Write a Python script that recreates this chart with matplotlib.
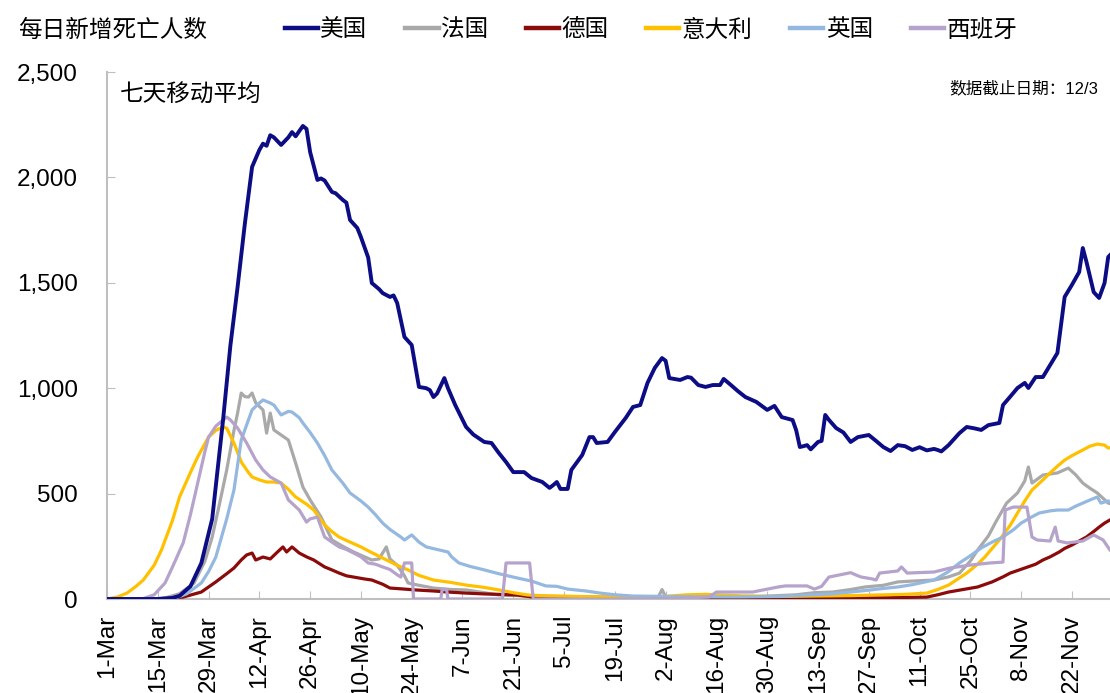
import matplotlib
matplotlib.use("Agg")
import matplotlib.pyplot as plt

plt.rcParams['font.family'] = ['Liberation Sans', 'Noto Sans CJK SC']

# days counted from 1-Mar, values = 7-day average of daily new deaths
us_day = [0, 14, 18, 20, 23, 26, 29, 32, 34, 36, 38, 40, 41, 42, 43, 44, 45, 46, 48, 50,
          51, 52, 54, 55, 56, 58, 59, 60, 62, 63, 65, 66, 67, 69, 70, 72, 73, 75, 76, 78,
          79, 80, 82, 84, 86, 88, 89, 90, 91, 93, 94, 96, 99, 101, 104, 106, 108, 110, 112, 115,
          117, 120, 122, 123, 124, 125, 127, 128, 131, 133, 134, 135, 138, 140, 143, 145, 147, 149, 151, 153,
          154, 155, 158, 160, 161, 163, 165, 167, 169, 170, 172, 174, 176, 179, 182, 184, 186, 189, 190, 191,
          192, 193, 194, 196, 197, 198, 199, 201, 203, 205, 207, 210, 212, 214, 216, 218, 220, 222, 224, 226,
          228, 229, 230, 232, 235, 237, 239, 241, 243, 246, 247, 249, 251, 253, 254, 256, 258, 260, 262, 264,
          266, 268, 269, 270, 271, 272, 273.5, 275, 276, 277]
us_val = [0, 0, 5, 15, 60, 170, 380, 850, 1200, 1480, 1780, 2050, 2090, 2130, 2160, 2150, 2200, 2190, 2154, 2190,
          2215, 2195, 2244, 2230, 2120, 1988, 1995, 1985, 1931, 1925, 1893, 1880, 1798, 1760, 1717, 1620, 1499, 1470, 1451, 1433,
          1440, 1404, 1243, 1205, 1006, 1000, 991, 958, 975, 1048, 1000, 920, 816, 780, 745, 740, 693, 650, 602, 602,
          574, 555, 527, 540, 555, 522, 522, 612, 683, 768, 768, 740, 745, 792, 859, 911, 920, 1025, 1096, 1143,
          1130, 1048, 1039, 1053, 1050, 1015, 1006, 1015, 1015, 1044, 1015, 985, 958, 935, 897, 916, 863, 849, 800, 721,
          725, 730, 710, 745, 750, 873, 850, 811, 790, 745, 768, 778, 750, 721, 702, 730, 725, 707, 720, 705,
          712, 707, 700, 730, 787, 816, 810, 802, 825, 835, 920, 960, 1001, 1025, 1001, 1053, 1053, 1110, 1167, 1433,
          1490, 1551, 1665, 1600, 1527, 1456, 1428, 1499, 1622, 1640]

fr_day = [0, 14, 16, 20, 24, 27, 29, 31, 33, 35, 36, 37, 38, 39, 40, 41, 43, 44, 45, 46,
          48, 50, 52, 54, 56, 59, 62, 65, 68, 71, 73, 75, 77, 78, 80, 82, 83, 86, 90, 95,
          99, 104, 108, 115, 125, 140, 152, 153, 154, 160, 180, 190, 195, 200, 205, 209, 214, 218, 222, 228,
          232, 235, 238, 240, 243, 245, 248, 251, 253, 254, 255, 258, 262, 265, 267, 269, 271, 273, 276, 277]
fr_val = [0, 2, 5, 25, 76, 180, 294, 450, 612, 800, 882, 977, 960, 958, 977, 930, 897, 787, 882, 802,
          778, 754, 645, 531, 470, 389, 280, 250, 223, 200, 185, 190, 247, 190, 160, 110, 76, 65, 52, 45,
          43, 30, 19, 15, 12, 10, 10, 45, 10, 10, 12, 20, 30, 33, 45, 57, 65, 81, 85, 90,
          105, 123, 180, 232, 300, 365, 455, 503, 560, 626, 550, 588, 598, 621, 590, 550, 525, 503, 455, 450]

de_day = [0, 12, 17, 21, 26, 30, 33, 35, 37, 38.5, 40, 41, 43, 45, 47, 48.5, 49.5, 51, 53, 55,
          57, 60, 62, 64, 66, 68, 71, 73, 76, 78, 82, 85, 90, 94, 99, 104, 110, 113, 117, 121,
          140, 170, 200, 215, 222, 226, 229, 232, 236, 240, 244, 247, 249, 251, 253, 256, 258, 260, 262.5, 264,
          266, 268, 270, 272, 273.5, 275, 276.5, 277]
de_val = [0, 0, 3, 9, 33, 81, 120, 147, 185, 209, 218, 185, 199, 190, 223, 247, 223, 247, 218, 200,
          185, 152, 138, 123, 110, 104, 95, 90, 70, 52, 47, 43, 38, 33, 28, 24, 21, 19, 10, 5,
          4, 3, 5, 6, 8, 9, 20, 33, 45, 57, 81, 105, 123, 135, 147, 165, 185, 200, 223, 240,
          256, 275, 294, 320, 341, 360, 375, 380]

it_day = [0, 3, 5.5, 8, 10, 13, 15, 18, 20, 23, 25, 28, 30, 32, 33, 35, 37, 39, 40, 42,
          44, 46, 48, 50, 52, 55, 57, 60, 62, 64, 67, 70, 73, 76, 80, 83, 86, 90, 95, 99,
          104, 108, 112, 116, 121, 130, 140, 150, 160, 165, 175, 185, 195, 205, 215, 220, 226, 229, 232, 235,
          237, 240, 242, 244, 246, 249, 251, 253, 255, 258, 260, 262, 264, 266, 269, 271, 273, 275, 276, 277]
it_val = [0, 10, 28, 60, 90, 160, 232, 370, 484, 600, 674, 768, 800, 816, 810, 740, 650, 600, 579, 565,
          555, 555, 550, 520, 484, 450, 422, 351, 320, 294, 270, 247, 220, 194, 160, 138, 112, 90, 78, 66,
          55, 43, 30, 19, 15, 12, 10, 8, 20, 22, 15, 12, 14, 16, 20, 22, 28, 45, 66, 100,
          123, 165, 199, 240, 280, 350, 408, 465, 517, 565, 598, 630, 659, 680, 707, 725, 735, 730, 716, 720]

uk_day = [0, 14, 19, 22, 26, 28, 30, 33, 35, 37, 39, 40, 42, 43, 45, 46, 48, 50, 51, 53,
          54, 56, 58, 60, 62, 65, 67, 70, 72, 74, 76, 78, 81, 82, 84, 86, 88, 91, 94, 95,
          97, 100, 104, 108, 113, 117, 121, 124, 127, 132, 136, 140, 145, 155, 165, 175, 185, 195, 200, 205,
          210, 214, 218, 222, 228, 232, 235, 238, 241, 244, 247, 250, 252, 255, 257, 260, 262, 265, 267, 269,
          271, 273, 274, 276, 277]
uk_val = [0, 0, 5, 25, 76, 130, 199, 380, 517, 754, 850, 897, 930, 944, 930, 920, 873, 890, 887, 860,
          835, 790, 740, 680, 612, 550, 503, 465, 436, 400, 360, 330, 294, 280, 304, 270, 247, 235, 223, 200,
          171, 155, 138, 120, 100, 85, 62, 60, 47, 38, 28, 20, 14, 12, 10, 10, 12, 20, 25, 33,
          42, 50, 57, 68, 90, 130, 171, 205, 242, 270, 294, 330, 360, 390, 408, 418, 422, 422, 440, 455,
          470, 484, 455, 465, 460]

es_day = [0, 8, 10, 13, 16, 18, 21, 23, 25, 27, 28, 30, 31, 33, 34, 36, 38.5, 41, 43, 45,
          48, 50, 53, 55, 56, 58, 60, 62, 64, 66, 68, 70, 72, 74, 76, 78, 80, 81, 82, 84,
          84.5, 92, 92.4, 93.6, 94, 109, 110, 116.5, 117.5, 150, 160, 166, 168, 178, 180, 185, 187, 193, 195, 197,
          199, 205, 207, 208, 211, 212, 213, 218, 219, 220.6, 228, 232.4, 238, 243.5, 247, 247.6, 249.8, 253.6, 255, 256.4,
          260, 261.4, 262.2, 264.7, 269, 272, 274.6, 276.5, 277]
es_val = [0, 0, 2, 20, 76, 150, 266, 400, 550, 700, 768, 820, 835, 863, 850, 811, 740, 659, 612, 579,
          550, 470, 422, 365, 380, 389, 294, 270, 247, 235, 218, 200, 171, 165, 152, 140, 115, 104, 171, 171,
          0, 0, 45, 45, 0, 0, 171, 171, 0, 0, 5, 10, 33, 33, 40, 57, 62, 62, 47, 60,
          104, 125, 110, 104, 95, 90, 123, 133, 152, 123, 128, 147, 161, 171, 175, 422, 436, 436, 294, 280,
          275, 341, 275, 266, 275, 304, 280, 232, 225]

names = ['美国', '法国', '德国', '意大利', '英国', '西班牙']
colors = ['#0c0c85', '#a9a9a9', '#8b0a0a', '#ffc000', '#95b8e0', '#b5a3cc']

tick_days = list(range(0, 267, 14))
tick_labels = ['1-Mar', '15-Mar', '29-Mar', '12-Apr', '26-Apr', '10-May', '24-May', '7-Jun',
               '21-Jun', '5-Jul', '19-Jul', '2-Aug', '16-Aug', '30-Aug', '13-Sep', '27-Sep',
               '11-Oct', '25-Oct', '8-Nov', '22-Nov']

fig = plt.figure(figsize=(11.1, 6.93), dpi=100)
ax = fig.add_axes([107/1110, 94/693, 1003/1110, 527/693])

series = [(us_day, us_val), (fr_day, fr_val), (de_day, de_val),
          (it_day, it_val), (uk_day, uk_val), (es_day, es_val)]
lines = []
# draw the others first, US on top
order = [1, 2, 3, 4, 5, 0]
for i in order:
    d, v = series[i]
    lw = 2.8 if i == 0 else 2.3
    ln, = ax.plot(d, v, color=colors[i], lw=lw, solid_joinstyle='round', zorder=3 if i == 0 else 2)
    lines.append((i, ln))
lines.sort()

ax.set_xlim(0, 276.5)
ax.set_ylim(0, 2500)
ax.set_xticks(tick_days)
ax.set_xticklabels(tick_labels, rotation=90, fontsize=17.5)
ax.set_yticks([0, 500, 1000, 1500, 2000, 2500])
ax.set_yticklabels(['0', '500', '1,000', '1,500', '2,000', '2,500'], fontsize=17.5)
ax.tick_params(axis='x', direction='in', length=6, color='#bfbfbf', pad=11.5)
ax.tick_params(axis='y', direction='in', length=6, color='#bfbfbf', pad=21)
for s in ['top', 'right']:
    ax.spines[s].set_visible(False)
for s in ['left', 'bottom']:
    ax.spines[s].set_color('#bfbfbf')
    ax.spines[s].set_linewidth(1.5)
ax.spines['bottom'].set_zorder(1)

ax.text(0.013, 0.956, '七天移动平均', transform=ax.transAxes, fontsize=17,
        va='center', ha='left', family=['Noto Sans CJK SC'])
fig.text(1098/1110, 1 - 88/693, '数据截止日期：12/3', fontsize=12, ha='right', va='center',
         family=['Liberation Sans', 'Noto Sans CJK SC'])
fig.text(18/1110, 1 - 30/693, '每日新增死亡人数', fontsize=17, ha='left', va='center',
         family=['Noto Sans CJK SC'])

leg = fig.legend([ln for _, ln in lines], names, loc='center left',
                 bbox_to_anchor=(285/1110, 1 - 30/693), ncol=6, frameon=False,
                 prop={'family': 'Noto Sans CJK SC', 'size': 17},
                 handlelength=1.4, handletextpad=0.1, columnspacing=1.6,
                 borderpad=0, borderaxespad=0)
for h in leg.legend_handles:
    h.set_linewidth(3.2)

plt.savefig('out.png', dpi=100)
